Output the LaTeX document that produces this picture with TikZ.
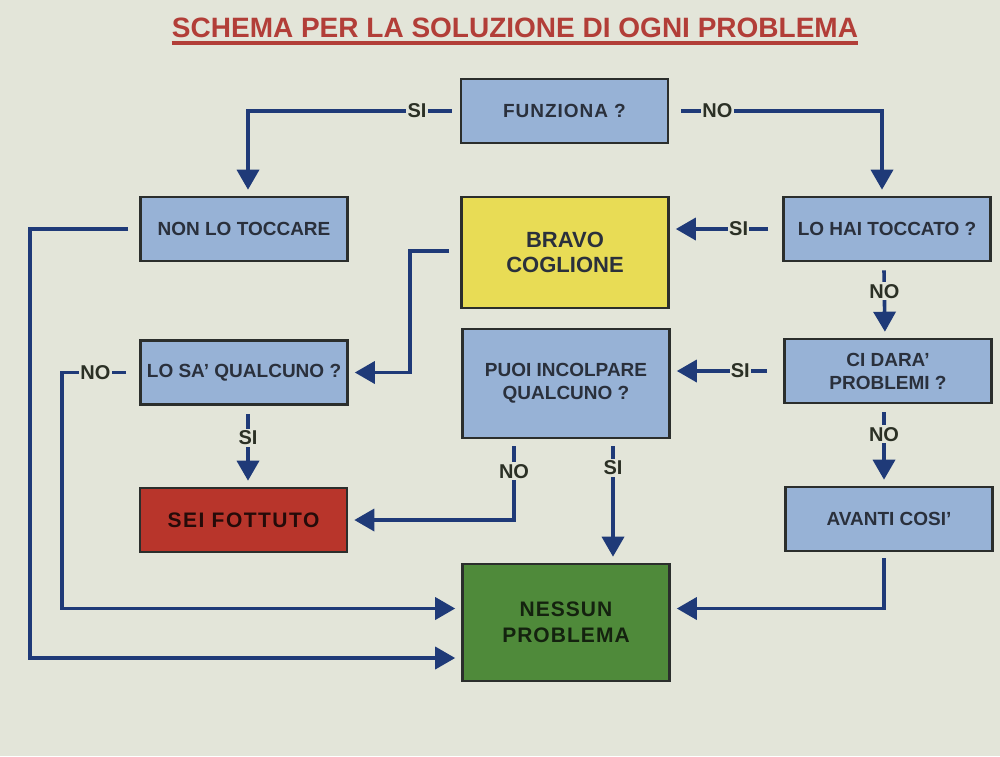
\documentclass[tikz,border=0pt]{standalone}
\usepackage{fontspec}
\setmainfont{Liberation Sans}
\usetikzlibrary{arrows.meta,calc}
\definecolor{bg}{HTML}{E3E5D9}
\definecolor{boxblue}{HTML}{97B2D6}
\definecolor{boxyellow}{HTML}{E8DC55}
\definecolor{boxred}{HTML}{B8352B}
\definecolor{boxgreen}{HTML}{4F8A3A}
\definecolor{boxline}{HTML}{2B2E2C}
\definecolor{conncol}{HTML}{1F3A78}
\definecolor{txt}{HTML}{2A303C}
\definecolor{lbltxt}{HTML}{2B3025}
\definecolor{titlecol}{HTML}{B23E38}
\tikzset{
  box/.style={draw=boxline, line width=1.3pt, align=center, text=txt,
    font=\bfseries\fontsize{9.5}{11.5}\selectfont, inner sep=0pt,
    minimum width=103.5pt, minimum height=32pt},
  bluebox/.style={box, fill=boxblue},
  conn/.style={draw=conncol, line width=1.8pt, shorten >=3pt,
    -{Triangle[length=10pt,width=11pt]}},
  lbl/.style={fill=bg, text=lbltxt, font=\bfseries\fontsize{10}{12}\selectfont,
    inner xsep=0.6pt, inner ysep=1pt},
  titlestyle/.style={text=titlecol, font=\bfseries\fontsize{14}{16}\selectfont, inner sep=0pt}
}
\begin{document}
\begin{tikzpicture}[x=0.5pt,y=-0.5pt]
\fill[bg] (0,0) rectangle (1000,756);
\useasboundingbox (0,0) rectangle (1000,756);

% title
\node[titlestyle, anchor=base] (title) at (515,37) {SCHEMA PER LA SOLUZIONE DI OGNI PROBLEMA};
\draw[titlecol, line width=2pt] ($(title.south west)+(0,5)$) -- ($(title.south east)+(0,5)$);

% boxes
\node[bluebox, font=\bfseries\fontsize{9.5}{11.5}\selectfont\addfontfeature{LetterSpace=5}] (fun) at (564.5,111) {FUNZIONA ?};
\node[bluebox] (non) at (244,229) {NON LO TOCCARE};
\node[box, fill=boxyellow, minimum height=55.5pt, font=\bfseries\fontsize{11}{12.5}\selectfont] (bravo) at (565,252.5) {BRAVO\\COGLIONE};
\node[bluebox] (hai) at (887,229) {LO HAI TOCCATO ?};
\node[bluebox] (losa) at (244,372.5) {LO SA' QUALCUNO ?};
\node[bluebox, minimum height=54.5pt] (puoi) at (566,383.5) {PUOI INCOLPARE\\QUALCUNO ?};
\node[bluebox] (ci) at (888,371) {CI DARA'\\PROBLEMI ?};
\node[box, fill=boxred, text=black!80!boxred, font=\bfseries\fontsize{10.5}{12}\selectfont\addfontfeature{LetterSpace=7}] (sei) at (243.5,520) {SEI FOTTUTO};
\node[bluebox] (avanti) at (889,519) {AVANTI COSI'};
\node[box, fill=boxgreen, minimum height=58.5pt, text=black!75!boxgreen, font=\bfseries\fontsize{10.5}{13}\selectfont\addfontfeature{LetterSpace=5}] (nessun) at (566,622.5) {NESSUN\\PROBLEMA};

% helper coordinates for corner columns
\coordinate (k1) at (410,0);
\coordinate (k2) at (62,0);
\coordinate (k3) at (514,0);
\coordinate (k4) at (613,0);
\coordinate (k5) at (30,0);

% connectors
\draw[conn] ($(fun.west)+(-8,0)$) -| node[lbl,pos=0.085]{SI} ($(non.north)+(4,0)$);
\draw[conn] ($(fun.east)+(12,0)$) -| node[lbl,pos=0.09]{NO} ($(hai.north)+(-5,0)$);
\draw[conn] ($(hai.west)+(-14,0)$) -- node[lbl,pos=0.30]{SI} (bravo.east |- hai.west);
\draw[conn] ($(hai.south)+(-3,8)$) -- node[lbl,pos=0.31]{NO} ($(ci.north)+(-3,0)$);
\draw[conn] ($(ci.west)+(-16,0)$) -- node[lbl,pos=0.28]{SI} (puoi.east |- ci.west);
\draw[conn] ($(ci.south)+(-4,8)$) -- node[lbl,pos=0.3]{NO} ($(avanti.north)+(-5,0)$);
\draw[conn] ($(avanti.south)+(-5,6)$) |- ($(nessun.east)+(0,-14)$);
\draw[conn] ($(bravo.west)+(-11,-1.5)$) -| (k1 |- losa.east) -- (losa.east);
\draw[conn] ($(losa.west)+(-13,0)$) -- node[lbl,pos=0.48]{NO} (k2 |- losa.west) |- ($(nessun.west)+(0,-14)$);
\draw[conn] ($(losa.south)+(4,8)$) -- node[lbl,pos=0.33]{SI} ($(sei.north)+(4.5,0)$);
\draw[conn] ($(k3 |- puoi.south)+(0,7)$) |- node[lbl,pos=0.17]{NO} (sei.east);
\draw[conn] ($(k4 |- puoi.south)+(0,7)$) -- node[lbl,pos=0.185]{SI} (k4 |- nessun.north);
\draw[conn] ($(non.west)+(-11,0)$) -- (k5 |- non.west) |- ($(nessun.west)+(0,35.5)$);
\end{tikzpicture}
\end{document}
